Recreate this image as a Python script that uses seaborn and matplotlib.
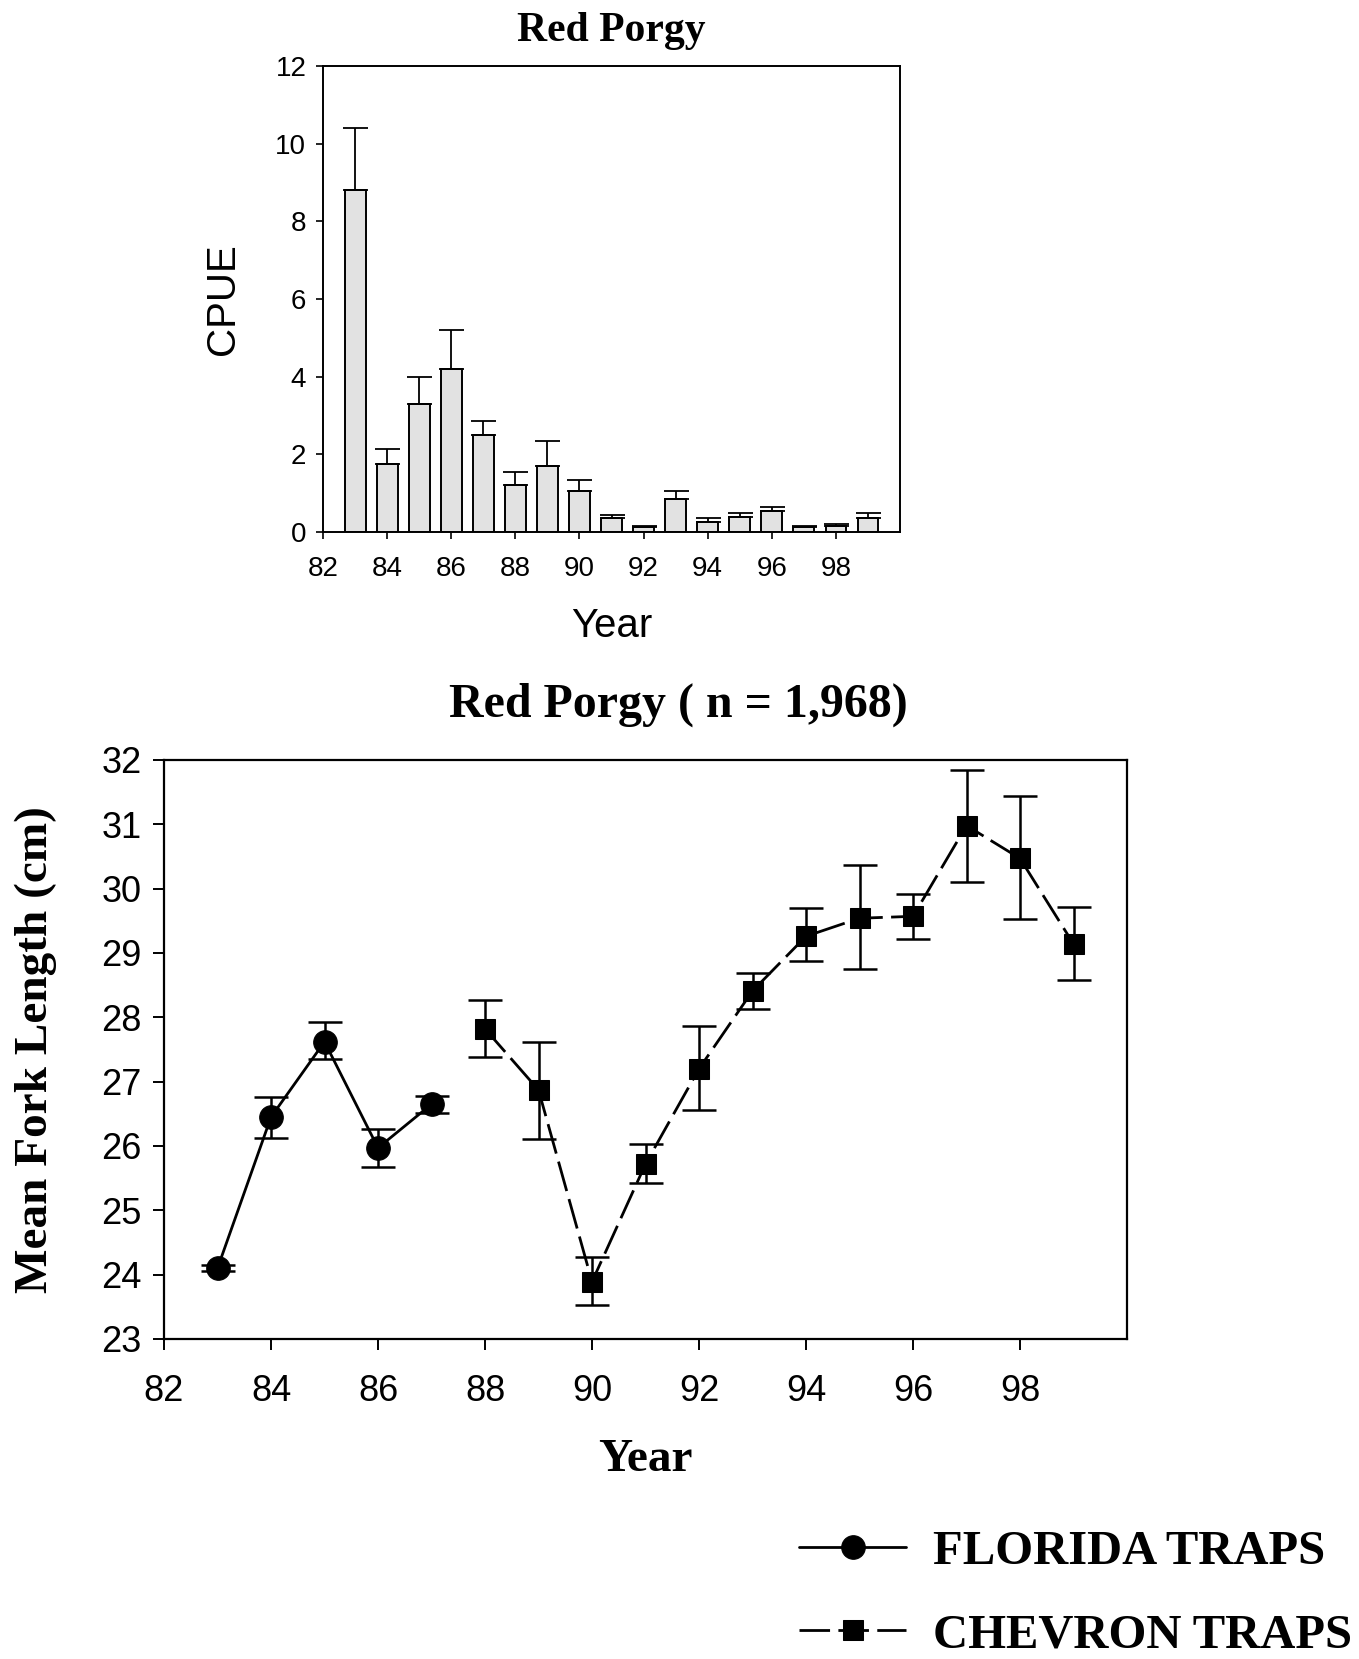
import numpy as np
import matplotlib
matplotlib.use("Agg")
import matplotlib.pyplot as plt
import seaborn as sns

# ---- data ----
BAR_YEARS = [83, 84, 85, 86, 87, 88, 89, 90, 91, 92, 93, 94, 95, 96, 97, 98, 99]
CPUE = [8.8, 1.75, 3.3, 4.2, 2.5, 1.2, 1.7, 1.05, 0.35, 0.12, 0.85, 0.25, 0.4, 0.55, 0.12, 0.15, 0.35]
CPUE_UP = [10.4, 2.15, 4.0, 5.2, 2.85, 1.55, 2.35, 1.35, 0.45, 0.15, 1.05, 0.35, 0.5, 0.65, 0.15, 0.2, 0.5]

FL_YEARS = [83, 84, 85, 86, 87]
FL_MEAN = [24.1, 26.45, 27.62, 25.97, 26.65]
FL_UP = [24.15, 26.76, 27.92, 26.27, 26.78]
FL_LO = [24.05, 26.13, 27.35, 25.68, 26.52]

CH_YEARS = [88, 89, 90, 91, 92, 93, 94, 95, 96, 97, 98, 99]
CH_MEAN = [27.82, 26.87, 23.89, 25.72, 27.2, 28.41, 29.26, 29.54, 29.57, 30.98, 30.47, 29.14]
CH_UP = [28.27, 27.61, 24.27, 26.03, 27.87, 28.69, 29.70, 30.36, 29.91, 31.85, 31.44, 29.71]
CH_LO = [27.39, 26.11, 23.53, 25.43, 26.56, 28.13, 28.88, 28.75, 29.22, 30.11, 29.53, 28.58]

TICKS_X = [82, 84, 86, 88, 90, 92, 94, 96, 98]

sns.set_style("ticks")
SERIF = ["Liberation Serif", "DejaVu Serif"]
SANS = ["Liberation Sans", "DejaVu Sans"]
plt.rcParams["font.family"] = SANS
plt.rcParams.update({"text.color": "black", "axes.labelcolor": "black",
                     "xtick.color": "black", "ytick.color": "black",
                     "axes.edgecolor": "black"})

fig = plt.figure(figsize=(13.59, 16.59), dpi=100)

# ==========================================
# top panel: CPUE bars
# ==========================================
ax1 = fig.add_axes([0.2377, 0.6793, 0.4246, 0.2809])
sns.barplot(x=BAR_YEARS, y=CPUE, native_scale=True, width=0.65, color="#e2e2e2",
            saturation=1, edgecolor="black", linewidth=1.4, errorbar=None, ax=ax1)
cpue = np.array(CPUE)
ax1.errorbar(BAR_YEARS, cpue, yerr=[np.zeros_like(cpue), np.array(CPUE_UP) - cpue],
             fmt="none", ecolor="black", elinewidth=1.3, capsize=9, capthick=1.3)
ax1.set_xlim(82, 100)
ax1.set_ylim(0, 12)
ax1.set_xticks(TICKS_X)
ax1.set_xticklabels([str(t) for t in TICKS_X])
ax1.set_yticks(range(0, 13, 2))
ax1.tick_params(labelsize=20, length=5, width=1.2, direction="out")
ax1.tick_params(axis="x", pad=12)
ax1.tick_params(axis="y", pad=7)
ax1.set_xlabel("Year", fontsize=29, labelpad=18)
ax1.set_ylabel("CPUE", fontsize=29, labelpad=24)
ax1.set_title("Red Porgy", fontsize=30, fontweight="bold", family=SERIF, pad=18)
for s in ax1.spines.values():
    s.set_visible(True)
    s.set_linewidth(1.4)

# ==========================================
# bottom panel: mean fork length
# ==========================================
ax2 = fig.add_axes([0.1207, 0.1929, 0.7086, 0.349])
sns.lineplot(x=FL_YEARS, y=FL_MEAN, color="black", linewidth=2, marker="o",
             markersize=17, markeredgecolor="black", label="FLORIDA TRAPS", ax=ax2)
sns.lineplot(x=CH_YEARS, y=CH_MEAN, color="black", linewidth=2, marker="s",
             markersize=15, markeredgecolor="black", dashes=False, label="CHEVRON TRAPS", ax=ax2)
ax2.lines[1].set_dashes((11, 3))

fl = np.array(FL_MEAN)
ax2.errorbar(FL_YEARS, fl, yerr=[fl - np.array(FL_LO), np.array(FL_UP) - fl],
             fmt="none", ecolor="black", elinewidth=1.8, capsize=12, capthick=1.8)
ch = np.array(CH_MEAN)
ax2.errorbar(CH_YEARS, ch, yerr=[ch - np.array(CH_LO), np.array(CH_UP) - ch],
             fmt="none", ecolor="black", elinewidth=1.8, capsize=12, capthick=1.8)

ax2.set_xlim(82, 100)
ax2.set_ylim(23, 32)
ax2.set_xticks(TICKS_X)
ax2.set_xticklabels([str(t) for t in TICKS_X])
ax2.set_yticks(range(23, 33))
ax2.tick_params(labelsize=26, length=8, width=1.4, direction="out")
ax2.tick_params(axis="x", pad=17)
ax2.tick_params(axis="y", pad=8)
ax2.set_xlabel("Year", fontsize=34, fontweight="bold", family=SERIF, labelpad=22)
ax2.set_ylabel("Mean Fork Length (cm)", fontsize=34, fontweight="bold", family=SERIF, labelpad=32)
ax2.set_title("Red Porgy ( n = 1,968)", fontsize=34.5, fontweight="bold", family=SERIF,
              pad=31, x=0.534)
for s in ax2.spines.values():
    s.set_visible(True)
    s.set_linewidth(1.6)

handles, labels = ax2.get_legend_handles_labels()
ax2.get_legend().remove()
fig.legend(handles, labels, loc="upper left", bbox_to_anchor=(0.588, 0.0775),
           frameon=False, borderpad=0, borderaxespad=0, handlelength=2.2,
           handletextpad=0.55, labelspacing=0.8,
           prop={"family": SERIF, "weight": "bold", "size": 35})

fig.savefig("out.png", dpi=100)
